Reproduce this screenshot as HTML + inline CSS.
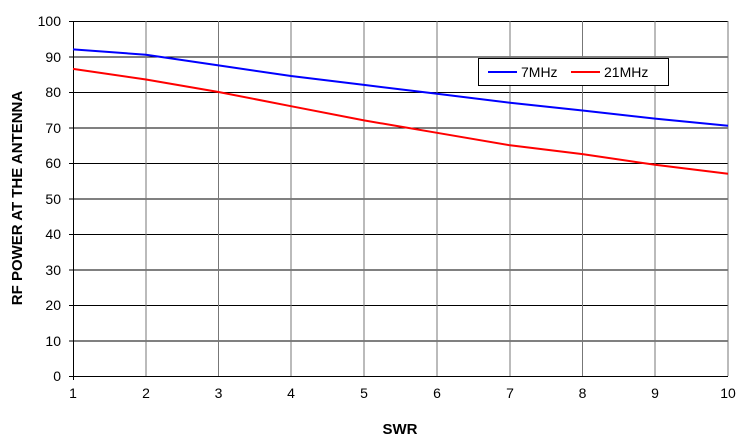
<!DOCTYPE html>
<html><head><meta charset="utf-8"><style>
html,body{margin:0;padding:0;background:#fff;}
svg{display:block;font-family:"Liberation Sans",Arial,sans-serif;}
</style></head><body>
<svg width="750" height="439" viewBox="0 0 750 439">
<rect width="750" height="439" fill="#fff"/>
<g stroke="#000" stroke-width="1">
<!-- horizontal gridlines -->
<line x1="73" y1="21.5" x2="728" y2="21.5"/>
<line x1="73" y1="57" x2="728" y2="57"/>
<line x1="73" y1="92.5" x2="728" y2="92.5"/>
<line x1="73" y1="128" x2="728" y2="128"/>
<line x1="73" y1="163.5" x2="728" y2="163.5"/>
<line x1="73" y1="199" x2="728" y2="199"/>
<line x1="73" y1="234.5" x2="728" y2="234.5"/>
<line x1="73" y1="270" x2="728" y2="270"/>
<line x1="73" y1="305.5" x2="728" y2="305.5"/>
<line x1="73" y1="341" x2="728" y2="341"/>
</g>
<g stroke="#777" stroke-width="1">
<line x1="146" y1="21" x2="146" y2="376"/>
<line x1="218.5" y1="21" x2="218.5" y2="376"/>
<line x1="291" y1="21" x2="291" y2="376"/>
<line x1="364" y1="21" x2="364" y2="376"/>
<line x1="437" y1="21" x2="437" y2="376"/>
<line x1="510" y1="21" x2="510" y2="376"/>
<line x1="582.5" y1="21" x2="582.5" y2="376"/>
<line x1="655" y1="21" x2="655" y2="376"/>
<line x1="728" y1="21" x2="728" y2="376"/>
</g>
<g stroke="#000" stroke-width="1">
<line x1="73.5" y1="21" x2="73.5" y2="380"/>
<line x1="69" y1="376.5" x2="728" y2="376.5"/>
<line x1="69" y1="21.5" x2="73" y2="21.5"/><line x1="69" y1="57" x2="73" y2="57"/><line x1="69" y1="92.5" x2="73" y2="92.5"/><line x1="69" y1="128" x2="73" y2="128"/><line x1="69" y1="163.5" x2="73" y2="163.5"/><line x1="69" y1="199" x2="73" y2="199"/><line x1="69" y1="234.5" x2="73" y2="234.5"/><line x1="69" y1="270" x2="73" y2="270"/><line x1="69" y1="305.5" x2="73" y2="305.5"/><line x1="69" y1="341" x2="73" y2="341"/>
</g>
<polyline fill="none" stroke="#0000ff" stroke-width="2" points="73,49.4 146,54.7 218.5,65.4 291,76 364,84.9 437,93.8 510,102.7 582.5,110.5 655,118.6 728,125.7"/>
<polyline fill="none" stroke="#ff0000" stroke-width="2" points="73,68.9 146,79.5 218.5,92 291,106.2 364,120.4 437,132.8 510,145.3 582.5,154.1 655,164.8 728,173.7"/>
<g font-size="14" text-anchor="end" fill="#000">
<text x="61" y="26">100</text><text x="61" y="62">90</text><text x="61" y="97">80</text><text x="61" y="133">70</text><text x="61" y="168">60</text><text x="61" y="204">50</text><text x="61" y="239">40</text><text x="61" y="275">30</text><text x="61" y="310">20</text><text x="61" y="346">10</text><text x="61" y="381">0</text>
</g>
<g font-size="14" text-anchor="middle" fill="#000">
<text x="73" y="398">1</text><text x="146" y="398">2</text><text x="218.5" y="398">3</text><text x="291" y="398">4</text><text x="364" y="398">5</text><text x="437" y="398">6</text><text x="510" y="398">7</text><text x="582.5" y="398">8</text><text x="655" y="398">9</text><text x="728" y="398">10</text>
</g>
<text x="400" y="434" font-size="15" font-weight="bold" text-anchor="middle">SWR</text>
<text transform="translate(22,198) rotate(-90)" font-size="15" font-weight="bold" text-anchor="middle">RF POWER AT THE ANTENNA</text>
<rect x="478.5" y="58.5" width="190" height="27" fill="#fff" stroke="#000"/>
<line x1="488" y1="72" x2="517" y2="72" stroke="#0000ff" stroke-width="2"/>
<text x="521" y="77" font-size="14">7MHz</text>
<line x1="571" y1="72" x2="600" y2="72" stroke="#ff0000" stroke-width="2"/>
<text x="604" y="77" font-size="14">21MHz</text>
</svg>
</body></html>
